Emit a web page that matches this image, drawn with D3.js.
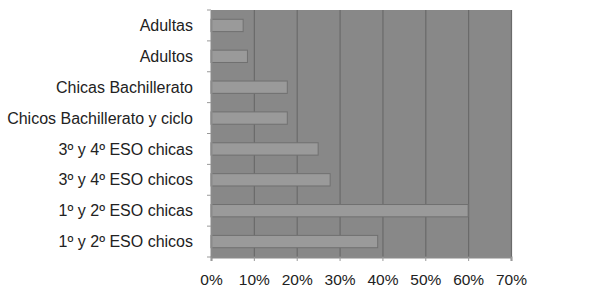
<!DOCTYPE html>
<html><head><meta charset="utf-8">
<script src="https://cdn.jsdelivr.net/npm/d3@7"></script>
<style>body{margin:0;background:#fff}svg{display:block}text{font-family:"Liberation Sans",Arial,sans-serif}</style>
</head><body><svg id="c" width="615" height="302"></svg>
<script>
const categories = ["Adultas","Adultos","Chicas Bachillerato","Chicos Bachillerato y ciclo","3º y 4º ESO chicas","3º y 4º ESO chicos","1º y 2º ESO chicas","1º y 2º ESO chicos"];
const values = [7.5, 8.5, 17.8, 17.8, 25, 27.8, 60, 38.9];
const ticks = [0,10,20,30,40,50,60,70];
const tickLabels = ["0%","10%","20%","30%","40%","50%","60%","70%"];

const m = {l:211, t:10, r:511, b:257};
const svg = d3.select("#c");
const x = d3.scaleLinear().domain([0,70]).range([m.l, m.r]);
const y = d3.scaleBand().domain(categories).range([m.t, m.b]).paddingInner(0.6).paddingOuter(0.3);
const yb = d3.scaleBand().domain(categories).range([m.t, m.b]);

svg.append("rect").attr("x",m.l).attr("y",m.t).attr("width",m.r-m.l).attr("height",m.b-m.t).attr("fill","#888888");
svg.append("g").selectAll("line").data(ticks.slice(1)).join("line")
  .attr("x1",d=>x(d)+0.5).attr("x2",d=>x(d)+0.5).attr("y1",m.t).attr("y2",m.b)
  .attr("stroke","#6a6a6a").attr("stroke-width",1.2);

svg.append("g").selectAll("rect").data(categories).join("rect")
  .attr("x",x(0)).attr("y",d=>y(d)).attr("width",(d,i)=>x(values[i])-x(0)).attr("height",y.bandwidth())
  .attr("fill","#9a9a9a").attr("stroke","#707070").attr("stroke-width",1);

const xAxis = d3.axisBottom(x).tickValues(ticks).tickFormat((d,i)=>tickLabels[i]).tickSize(4).tickPadding(13);
const gx = svg.append("g").attr("transform",`translate(0,${m.b})`).call(xAxis);
gx.select(".domain").attr("stroke","#8a8a8a").attr("stroke-width",2);
gx.selectAll(".tick line").attr("stroke","#999");
gx.selectAll("text").attr("font-size",15.5).attr("fill","#222");

const yAxis = d3.axisLeft(yb).tickValues([]).tickSize(0);
const gy = svg.append("g").attr("transform",`translate(${m.l},0)`).call(yAxis);
gy.select(".domain").attr("stroke","#8a8a8a").attr("stroke-width",2);
gy.selectAll(".yt").data(d3.range(categories.length+1)).join("line")
  .attr("x1",-4).attr("x2",0).attr("y1",i=>m.t+i*yb.step()).attr("y2",i=>m.t+i*yb.step()).attr("stroke","#999");

svg.append("g").selectAll("text").data(categories).join("text")
  .attr("x",193).attr("y",d=>yb(d)+yb.bandwidth()/2).attr("dy","0.35em").attr("text-anchor","end")
  .attr("font-size",16).attr("fill","#222").text(d=>d);
</script></body></html>
